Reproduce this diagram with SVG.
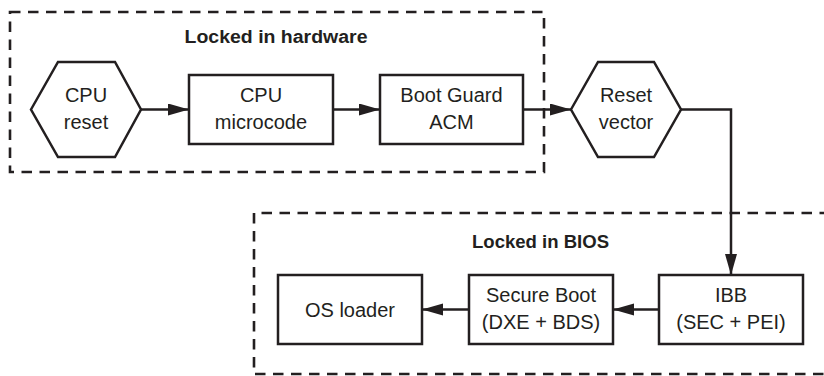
<svg xmlns="http://www.w3.org/2000/svg" width="824" height="376" viewBox="0 0 824 376">
<defs>
<style>
.grp{fill:none;stroke:#231f20;stroke-width:2.6;stroke-dasharray:10.5 7.5}
.node{fill:#fff;stroke:#231f20;stroke-width:2.5}
.t{font-family:"Liberation Sans",Arial,sans-serif;font-size:20px;fill:#231f20;text-anchor:middle}
.lbl{font-family:"Liberation Sans",Arial,sans-serif;font-size:18px;font-weight:bold;fill:#231f20;text-anchor:middle}
.c{fill:none;stroke:#231f20;stroke-width:2.5}
</style>
<marker id="ah" markerUnits="userSpaceOnUse" markerWidth="22" markerHeight="14" refX="21" refY="6" orient="auto">
<path d="M0,0 L21,6 L0,12 Z" fill="#231f20"/>
</marker>
</defs>
<rect width="824" height="376" fill="#fff"/>
<g id="group-hardware">
<rect class="grp" x="10" y="12" width="534" height="160"/>
<text class="lbl" x="276" y="43" textLength="183" lengthAdjust="spacingAndGlyphs">Locked in hardware</text>
</g>
<g id="group-bios">
<path class="grp" d="M830,213 H254 V374 H830"/>
<text class="lbl" x="540.5" y="248" textLength="137" lengthAdjust="spacingAndGlyphs">Locked in BIOS</text>
</g>
<g id="connectors">
<path class="c" d="M141,109.5 H189" marker-end="url(#ah)"/>
<path class="c" d="M333,109.5 H380" marker-end="url(#ah)"/>
<path class="c" d="M523,109.5 H571" marker-end="url(#ah)"/>
<path class="c" d="M681,109.5 H731 V275" marker-end="url(#ah)"/>
<path class="c" d="M659,309.5 H613" marker-end="url(#ah)"/>
<path class="c" d="M469,309.5 H422" marker-end="url(#ah)"/>
</g>
<g id="cpu-reset">
<path class="node" d="M31,109.5 L58,62 L115,62 L141,109.5 L115,157 L58,157 Z"/>
<text class="t" x="86" y="102">CPU</text>
<text class="t" x="86" y="129">reset</text>
</g>
<g id="cpu-microcode">
<rect class="node" x="189" y="75" width="144" height="69"/>
<text class="t" x="261" y="102">CPU</text>
<text class="t" x="261" y="129">microcode</text>
</g>
<g id="boot-guard-acm">
<rect class="node" x="380" y="75" width="143" height="69"/>
<text class="t" x="451.5" y="102">Boot Guard</text>
<text class="t" x="451.5" y="129">ACM</text>
</g>
<g id="reset-vector">
<path class="node" d="M571,109.5 L598,62 L654,62 L681,109.5 L654,157 L598,157 Z"/>
<text class="t" x="626" y="102">Reset</text>
<text class="t" x="626" y="129">vector</text>
</g>
<g id="ibb">
<rect class="node" x="659" y="275" width="144" height="69"/>
<text class="t" x="731" y="302">IBB</text>
<text class="t" x="731" y="329">(SEC + PEI)</text>
</g>
<g id="secure-boot">
<rect class="node" x="469" y="275" width="144" height="69"/>
<text class="t" x="541" y="302">Secure Boot</text>
<text class="t" x="541" y="329">(DXE + BDS)</text>
</g>
<g id="os-loader">
<rect class="node" x="278" y="275" width="144" height="69"/>
<text class="t" x="350" y="316.5">OS loader</text>
</g>
</svg>
